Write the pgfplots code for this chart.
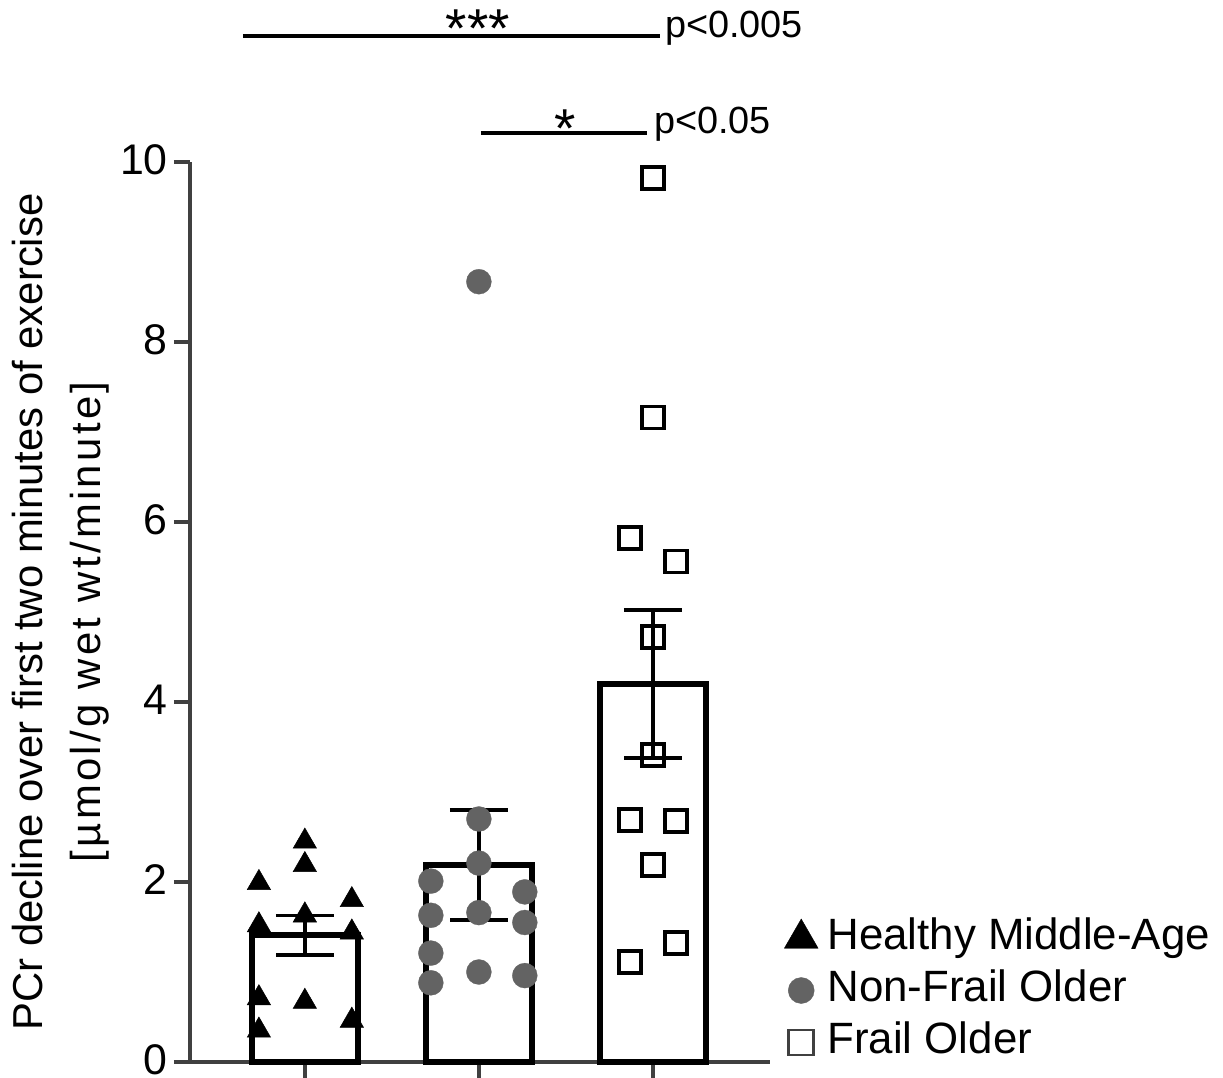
\documentclass[border=0pt]{standalone}
\usepackage{fontspec}
\setmainfont{Liberation Sans}
\usepackage{pgfplots}
\pgfplotsset{compat=1.18}
\definecolor{axiscol}{RGB}{64,64,64}
\definecolor{dotgray}{RGB}{99,99,99}
\newcommand{\bigfont}{\fontsize{42}{58}\selectfont}
\newcommand{\tickfont}{\fontsize{43}{50}\selectfont}
\newcommand{\pfont}{\fontsize{38}{42}\selectfont}
\newcommand{\starfont}{\fontsize{55}{60}\selectfont}
\begin{document}
\begin{tikzpicture}
\begin{axis}[
  name=ax,
  scale only axis, width=580bp, height=900bp,
  xmin=-0.66, xmax=2.673, ymin=0, ymax=10,
  axis x line*=bottom, axis y line*=left,
  axis line style={axiscol, line width=3.5bp},
  xtick={0,1,2}, xticklabels={},
  ytick={0,2,...,10},
  tick align=outside, major tick length=16bp,
  tick style={axiscol, line width=3.5bp},
  yticklabel style={font=\tickfont, inner sep=0pt, xshift=-6bp, yshift=2bp},
  /pgf/number format/assume math mode=true,
  clip=false,
  ylabel={PCr decline over first two minutes of exercise\\{\addfontfeatures{LetterSpace=8}{[}µmol/g wet wt/minute]}\hspace*{20bp}},
  ylabel style={font=\bigfont, align=center, at={(axis description cs:-0.1397,0.5)}, anchor=south, inner sep=0pt},
  legend style={at={(rel axis cs:1.0224,0.16056)}, anchor=north west, draw=none, fill=none, inner sep=0pt, outer sep=0pt, font=\fontsize{44}{50}\selectfont, row sep=10bp, column sep=8bp, nodes={inner sep=0pt, text height=31.5bp, text depth=10.5bp}},
  legend cell align=left,
  legend image code/.code={\draw[#1] plot coordinates {(17bp,0bp)}; \path (0bp,0bp) (34bp,0bp);},
]
\addplot[forget plot, ybar, bar width=106bp, fill=white, draw=black, line width=5.5bp,
  error bars/.cd, y dir=both, y explicit,
  error bar style={black, line width=3.5bp},
  error mark options={black, line width=3.5bp, mark size=29bp, rotate=90}]
 coordinates {(0,1.41) +- (0,0.22) (1,2.19) +- (0,0.61) (2,4.2) +- (0,0.82)};

\addplot[forget plot, only marks, mark=triangle*, mark size=13.5bp, mark options={fill=black, draw=black, line width=0.5bp}] coordinates {
(0,2.45) (0,2.19) (-0.264,1.99) (0.27,1.80) (0,1.63) (-0.264,1.52) (0.27,1.44) (-0.264,0.71) (0,0.67) (-0.264,0.35) (0.27,0.46)};

\addplot[forget plot, only marks, mark=*, mark size=12.5bp, mark options={fill=dotgray, draw=dotgray, line width=0.3bp}] coordinates {
(1,8.67) (1,2.70) (1,2.21) (0.724,2.01) (1.264,1.89) (0.724,1.63) (1,1.66) (1.264,1.55) (0.724,1.21) (0.724,0.88) (1,1.0) (1.264,0.96)};

\addplot[forget plot, only marks, mark=square, mark size=11bp, mark options={draw=black, line width=3.5bp, fill=none}] coordinates {
(2,9.82) (2,7.16) (1.868,5.82) (2.132,5.56) (2,4.72) (2,3.41) (1.868,2.69) (2.132,2.68) (2,2.19) (2.132,1.32) (1.868,1.11)};

\addlegendimage{only marks, mark=triangle*, mark size=19.5bp, black}
\addlegendentry{Healthy Middle-Age}
\addlegendimage{only marks, mark=*, mark size=13bp, dotgray}
\addlegendentry{Non-Frail Older}
\addlegendimage{only marks, mark=square, mark size=12.5bp, axiscol, line width=2.5bp}
\addlegendentry{Frail Older}

\draw[black, line width=3.5bp] (axis cs:-0.356,11.4) -- (axis cs:2.04,11.4);
\node[anchor=north, inner sep=0pt, font=\starfont] at (axis cs:0.994,11.689) {***};
\node[anchor=base west, inner sep=0pt, font=\pfont] at (axis cs:2.069,11.378) {p<0.005};
\draw[black, line width=3.5bp] (axis cs:1.011,10.322) -- (axis cs:1.966,10.322);
\node[anchor=north, inner sep=0pt, font=\starfont] at (axis cs:1.497,10.578) {*};
\node[anchor=base west, inner sep=0pt, font=\pfont] at (axis cs:2.006,10.322) {p<0.05};
\end{axis}
\pgfresetboundingbox
\path[use as bounding box] ([shift={(-190bp,-16bp)}]ax.south west) rectangle ([shift={(1033bp,1062bp)}]ax.south west);
\end{tikzpicture}
\end{document}
